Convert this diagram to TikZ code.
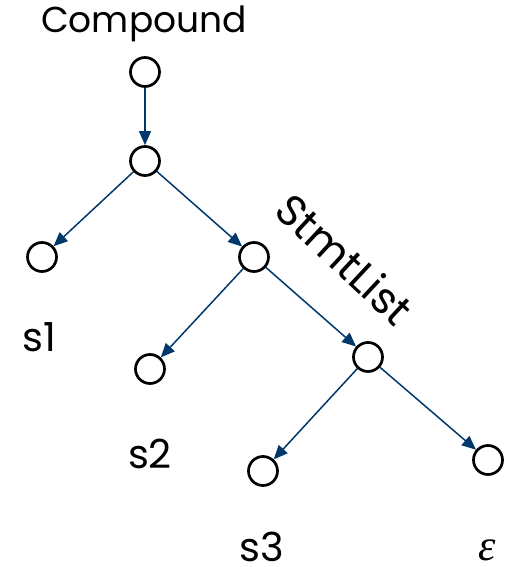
\documentclass[tikz,border=0pt]{standalone}
\usepackage{fontspec}
\setmainfont{Poppins}
\newfontfamily\epsfont{Liberation Serif}
\usetikzlibrary{arrows.meta}
\definecolor{arrowblue}{RGB}{0,56,108}
\begin{document}
\begin{tikzpicture}[x=1pt,y=-1pt,
  tnode/.style={circle,draw=black,line width=2.7pt,minimum size=29pt,inner sep=0pt},
  edge/.style={draw=arrowblue,line width=1.5pt,-{Triangle[length=14pt,width=12pt]}},
  lbl/.style={font=\fontsize{40}{40}\selectfont,inner sep=0pt},
  toplbl/.style={font=\fontsize{36}{36}\selectfont,inner sep=0pt}]
\useasboundingbox (0,0) rectangle (511,567);
\node[tnode] (r) at (145,72) {};
\node[tnode] (c) at (145,161) {};
\node[tnode] (a) at (42,257) {};
\node[tnode] (b) at (254,257) {};
\node[tnode] (d) at (150,369) {};
\node[tnode] (e) at (368,357) {};
\node[tnode] (f) at (263,471) {};
\node[tnode] (g) at (488,460) {};
\draw[edge] (r) -- (c);
\draw[edge] (c) -- (a);
\draw[edge] (c) -- (b);
\draw[edge] (b) -- (d);
\draw[edge] (b) -- (e);
\draw[edge] (e) -- (f);
\draw[edge] (e) -- (g);
\node[toplbl] (tc) at (144,24) {Compound};
\node[font=\fontsize{43}{43}\selectfont,inner sep=0pt,rotate=-43] (ts) at (345,259) {StmtList};
\node[lbl] (t1) at (39,337) {s1};
\node[lbl] (t2) at (150,454) {s2};
\node[lbl] (t3) at (262,547) {s3};
\node[font=\fontsize{44}{44}\selectfont,inner sep=0pt] (t4) at (487,550) {\epsfont\itshape ε};
\end{tikzpicture}
\end{document}
